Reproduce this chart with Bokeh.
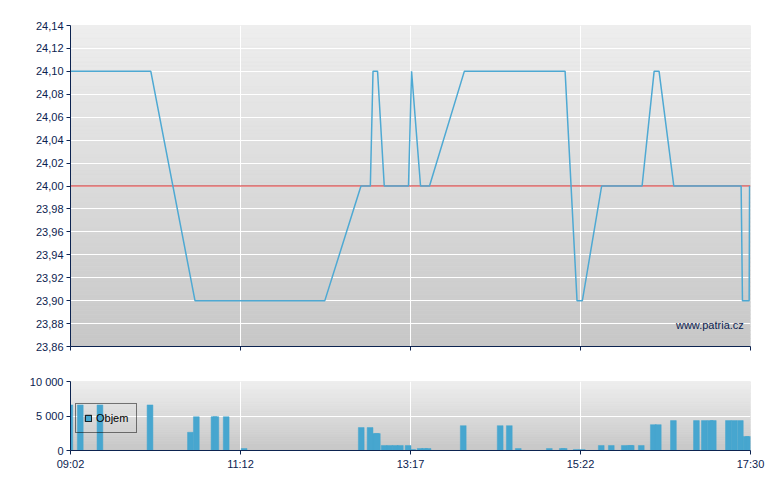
import numpy as np
from bokeh.plotting import figure
from bokeh.layouts import column
from bokeh.models import (FixedTicker, CustomJSTickFormatter, Span, Label,
                          Legend, LegendItem, Range1d)
from bokeh.embed import file_html
from bokeh.resources import INLINE

# ---- data (time in minutes after 09:02) ----
price_t = [0, 60, 93, 190, 217, 224, 226, 229.4, 234.4, 252.5, 254.8, 261.5,
           268.2, 294.2, 369.5, 378.4, 382.4, 396.8, 427, 436, 439.7, 450.7,
           501, 502, 507, 507.3]
price = [24.10, 24.10, 23.90, 23.90, 24.00, 24.00, 24.10, 24.10, 24.00, 24.00,
         24.10, 24.00, 24.00, 24.10, 24.10, 23.90, 23.90, 24.00, 24.00, 24.10,
         24.10, 24.00, 24.00, 23.90, 23.90, 24.00]
prev_close = 24.00

vol_t = [-0.5, 7.3, 22.0, 59.4, 89.6, 94.0, 107.2, 108.6, 116.3, 129.7,
         217.2, 223.8, 228.1, 229.2, 234.3, 238.5, 242.6, 246.4, 252.2, 255.6,
         261.2, 264.6, 267.1, 293.4, 321.0, 327.8, 334.5, 357.7, 367.4, 368.8,
         377.8, 382.3, 396.5, 404.0, 413.7, 418.0, 418.9, 426.4, 435.4, 439.1,
         450.4, 467.6, 473.5, 477.9, 480.2, 491.5, 495.8, 500.4, 504.7, 506.5]
vol = [6600, 6600, 6600, 6600, 2640, 4900, 4900, 4900, 4900, 290,
       3320, 3320, 2450, 2450, 720, 720, 720, 720, 720, 150,
       290, 290, 290, 3600, 3600, 3600, 290, 290, 290, 290,
       150, 150, 720, 720, 720, 720, 720, 720, 3750, 3750,
       4330, 4330, 4330, 4330, 4330, 4330, 4330, 4330, 2020, 2020]

x_tick_pos = [0, 127, 254, 381, 508]
x_tick_labels = ["09:02", "11:12", "13:17", "15:22", "17:30"]
price_ticks = [23.86, 23.88, 23.90, 23.92, 23.94, 23.96, 23.98, 24.00,
               24.02, 24.04, 24.06, 24.08, 24.10, 24.12, 24.14]
vol_ticks = [0, 5000, 10000]

# ---- styles ----
NAVY = "#0c2350"
BLUE = "#47a6cf"
LINE_BLUE = "#4ea9d3"
RED = "#d42020"
FONT = "Liberation Sans"
FS = "11px"


def gradient(p, x0, x1, y0, y1, n=80, top=(238, 238, 238), bot=(199, 199, 199)):
    edges = np.linspace(y0, y1, n + 1)
    cols = []
    for i in range(n):
        f = (i + 0.5) / n
        c = [int(round(b + (t - b) * f)) for t, b in zip(top, bot)]
        cols.append("#%02x%02x%02x" % tuple(c))
    r = p.quad(left=x0, right=x1, bottom=edges[:-1], top=edges[1:],
               fill_color=cols, line_color=cols, line_width=0.6)
    r.level = "image"


def style_axes(p):
    p.outline_line_color = None
    for ax in (p.xaxis[0], p.yaxis[0]):
        ax.axis_line_color = NAVY
        ax.major_tick_line_color = NAVY
        ax.minor_tick_line_color = None
        ax.major_tick_out = 4
        ax.major_tick_in = 0
        ax.major_label_text_color = NAVY
        ax.major_label_text_font = FONT
        ax.major_label_text_font_size = FS
        ax.major_label_standoff = 3
    p.xgrid.grid_line_color = "white"
    p.ygrid.grid_line_color = "white"
    p.xgrid.grid_line_width = 1
    p.ygrid.grid_line_width = 1


x_fmt = CustomJSTickFormatter(args=dict(pos=x_tick_pos, lab=x_tick_labels),
                              code="const i = pos.indexOf(tick); return i >= 0 ? lab[i] : '';")

# ---- price chart ----
p1 = figure(width=770, height=368, output_backend="svg", toolbar_location=None,
            x_range=Range1d(0, 508), y_range=Range1d(23.86, 24.14),
            min_border_left=70, min_border_right=20, min_border_top=25,
            min_border_bottom=22)
p1.background_fill_color = "#dddddd"
gradient(p1, 0, 508, 23.86, 24.14)
style_axes(p1)
p1.xaxis.ticker = FixedTicker(ticks=x_tick_pos)
p1.xaxis.formatter = CustomJSTickFormatter(code="return '';")
p1.xaxis.major_label_standoff = 0
p1.yaxis.ticker = FixedTicker(ticks=price_ticks)
p1.yaxis.formatter = CustomJSTickFormatter(code="return tick.toFixed(2).replace('.', ',');")

ref = Span(location=prev_close, dimension="width", line_color=RED, line_width=1)
ref.level = "underlay"
p1.add_layout(ref)
p1.line(price_t, price, line_color=LINE_BLUE, line_width=1.5)
p1.add_layout(Label(x=503, y=23.879, text="www.patria.cz", text_align="right",
                    text_baseline="middle", text_color=NAVY, text_font=FONT,
                    text_font_size=FS))

# ---- volume chart ----
p2 = figure(width=770, height=112, output_backend="svg", toolbar_location=None,
            x_range=p1.x_range, y_range=Range1d(0, 10000),
            min_border_left=70, min_border_right=20, min_border_top=13,
            min_border_bottom=30)
p2.background_fill_color = "#dddddd"
gradient(p2, 0, 508, 0, 10000, n=40)
style_axes(p2)
p2.xaxis.ticker = FixedTicker(ticks=x_tick_pos)
p2.xaxis.formatter = x_fmt
p2.yaxis.ticker = FixedTicker(ticks=vol_ticks)
p2.yaxis.formatter = CustomJSTickFormatter(
    code=r"return tick.toFixed(0).replace(/\B(?=(\d{3})+(?!\d))/g, ' ');")

p2.vbar(x=vol_t, top=vol, width=4.34, fill_color=BLUE, line_color=BLUE,
        line_width=0.5)
# legend-only renderer (hidden), so the key can carry a black outline
dummy = p2.vbar(x=vol_t[:1], top=vol[:1], width=1, fill_color=BLUE,
                line_color="black", line_width=1, visible=False)
legend = Legend(items=[LegendItem(label="Objem", renderers=[dummy])],
                location=(5, 17), padding=8, margin=0, glyph_width=8,
                glyph_height=8, label_height=12, label_standoff=4,
                border_line_color="black", border_line_width=1,
                background_fill_alpha=0, inactive_fill_alpha=0,
                label_text_font=FONT, label_text_font_size=FS,
                label_text_color="black")
p2.add_layout(legend)

page = column(p1, p2, spacing=0)
open("out.html", "w").write(file_html(page, INLINE))
